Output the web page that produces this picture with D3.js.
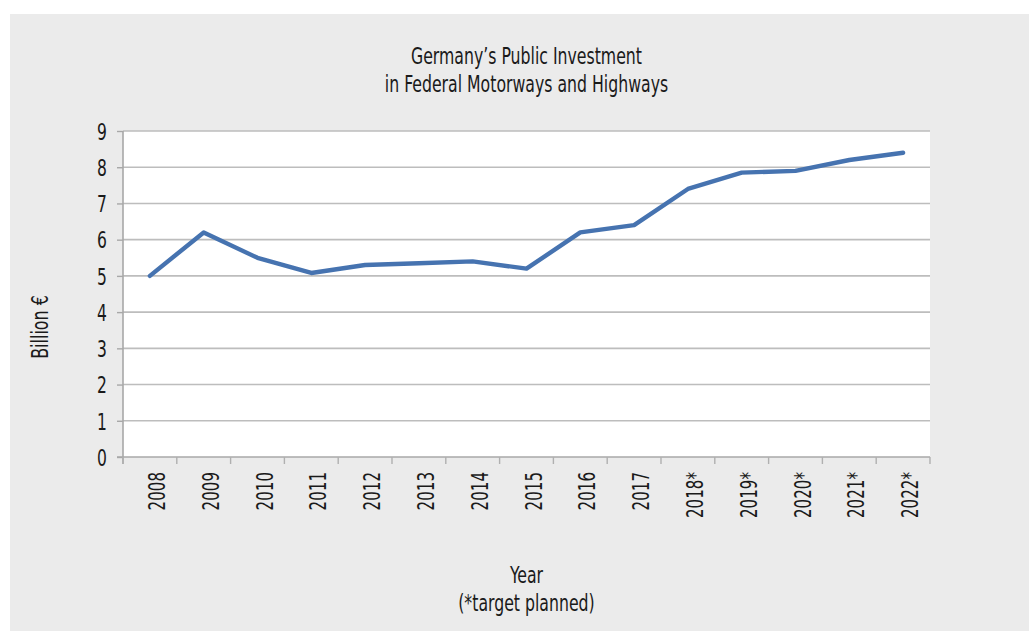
<!DOCTYPE html>
<html>
<head>
<meta charset="utf-8">
<script src="https://cdn.jsdelivr.net/npm/d3@7/dist/d3.min.js"></script>
<style>
  html, body { margin: 0; padding: 0; background: #ffffff; }
  svg { display: block; }
  text {
    font-family: "Liberation Sans Narrow", "DejaVu Sans Condensed", "Arial Narrow", sans-serif;
    font-stretch: condensed;
    fill: #1a1a1a;
  }
</style>
</head>
<body>
<svg id="chart" width="1029" height="631"></svg>
<script>
// Federal motorway and highway investment, billion euro
const years = ["2008", "2009", "2010", "2011", "2012", "2013", "2014", "2015",
               "2016", "2017", "2018*", "2019*", "2020*", "2021*", "2022*"];
const investment = [5.0, 6.2, 5.5, 5.08, 5.3, 5.35, 5.4, 5.2,
                    6.2, 6.4, 7.4, 7.85, 7.9, 8.2, 8.4];
const yTicks = [0, 1, 2, 3, 4, 5, 6, 7, 8, 9];
const titleLines = ["Germany\u2019s Public Investment", "in Federal Motorways and Highways"];
const xTitleLines = ["Year", "(*target planned)"];
const yTitle = "Billion \u20ac";

const W = 1029, H = 631;
const plot = { left: 123, right: 930, top: 131, bottom: 457 };
const FONT = 23;

// narrow the available condensed face a little further, keeping the glyph height
function condense(sel, factor = 0.75) {
  sel.each(function () {
    const len = this.getComputedTextLength();
    d3.select(this)
      .attr("textLength", len * factor)
      .attr("lengthAdjust", "spacingAndGlyphs");
  });
}

const svg = d3.select("#chart");

// grey backdrop panel
svg.append("rect")
  .attr("x", 10).attr("y", 14)
  .attr("width", W - 10).attr("height", H - 14)
  .attr("fill", "#ebebeb");

// white plot area
svg.append("rect")
  .attr("x", plot.left).attr("y", plot.top)
  .attr("width", plot.right - plot.left).attr("height", plot.bottom - plot.top)
  .attr("fill", "#ffffff");

const x = d3.scaleBand().domain(years).range([plot.left, plot.right]).padding(0);
const y = d3.scaleLinear().domain([0, 9]).range([plot.bottom, plot.top]);

// horizontal gridlines
svg.append("g").selectAll("line")
  .data(yTicks.filter(d => d > 0))
  .join("line")
  .attr("x1", plot.left).attr("x2", plot.right)
  .attr("y1", d => y(d)).attr("y2", d => y(d))
  .attr("stroke", "#bdbdbd").attr("stroke-width", 1.6);

// y axis
const yAxis = svg.append("g")
  .attr("transform", `translate(${plot.left},0)`)
  .call(d3.axisLeft(y).tickValues(yTicks).tickSize(6).tickPadding(10).tickFormat(d3.format("d")));
yAxis.attr("font-family", null).attr("font-size", null);
yAxis.select(".domain").attr("stroke", "#a8a8a8").attr("stroke-width", 1.6)
  .attr("d", `M0,${plot.top}V${plot.bottom + 7}`);
yAxis.selectAll(".tick line").attr("stroke", "#a8a8a8").attr("stroke-width", 1.4);
yAxis.selectAll(".tick text")
  .attr("font-size", FONT).attr("dy", "0.36em")
  .attr("fill", "#1a1a1a")
  .call(condense);

// x axis line and category boundary ticks
const xAxis = svg.append("g");
xAxis.append("line")
  .attr("x1", plot.left - 6).attr("x2", plot.right)
  .attr("y1", plot.bottom).attr("y2", plot.bottom)
  .attr("stroke", "#a8a8a8").attr("stroke-width", 1.6);
const boundaries = years.map(d => x(d)).concat([x(years[years.length - 1]) + x.bandwidth()]);
xAxis.selectAll("line.tick")
  .data(boundaries)
  .join("line")
  .attr("class", "tick")
  .attr("x1", d => d).attr("x2", d => d)
  .attr("y1", plot.bottom).attr("y2", plot.bottom + 7)
  .attr("stroke", "#b0b0b0").attr("stroke-width", 1.4);

// rotated category labels
xAxis.selectAll("text")
  .data(years)
  .join("text")
  .attr("transform", d => `translate(${x(d) + x.bandwidth() / 2 + 15},${plot.bottom + 15}) rotate(-90)`)
  .attr("text-anchor", "end")
  .attr("font-size", FONT)
  .text(d => d)
  .call(condense, 0.73);

// investment line
const line = d3.line()
  .x((d, i) => x(years[i]) + x.bandwidth() / 2)
  .y(d => y(d));
svg.append("path")
  .datum(investment)
  .attr("d", line)
  .attr("fill", "none")
  .attr("stroke", "#4673b0")
  .attr("stroke-width", 4.4)
  .attr("stroke-linejoin", "round")
  .attr("stroke-linecap", "round");

// chart title
const cx = (plot.left + plot.right) / 2;
svg.append("g").selectAll("text")
  .data(titleLines)
  .join("text")
  .attr("x", cx).attr("y", (d, i) => 64 + i * 28)
  .attr("text-anchor", "middle")
  .attr("font-size", FONT)
  .text(d => d)
  .call(condense, 0.76);

// x axis title
svg.append("g").selectAll("text")
  .data(xTitleLines)
  .join("text")
  .attr("x", cx).attr("y", (d, i) => 583 + i * 28)
  .attr("text-anchor", "middle")
  .attr("font-size", FONT)
  .text(d => d)
  .call(condense, 0.76);

// y axis title
svg.append("text")
  .attr("transform", `translate(48,327) rotate(-90)`)
  .attr("text-anchor", "middle")
  .attr("font-size", FONT)
  .text(yTitle)
  .call(condense, 0.77);
</script>
</body>
</html>
